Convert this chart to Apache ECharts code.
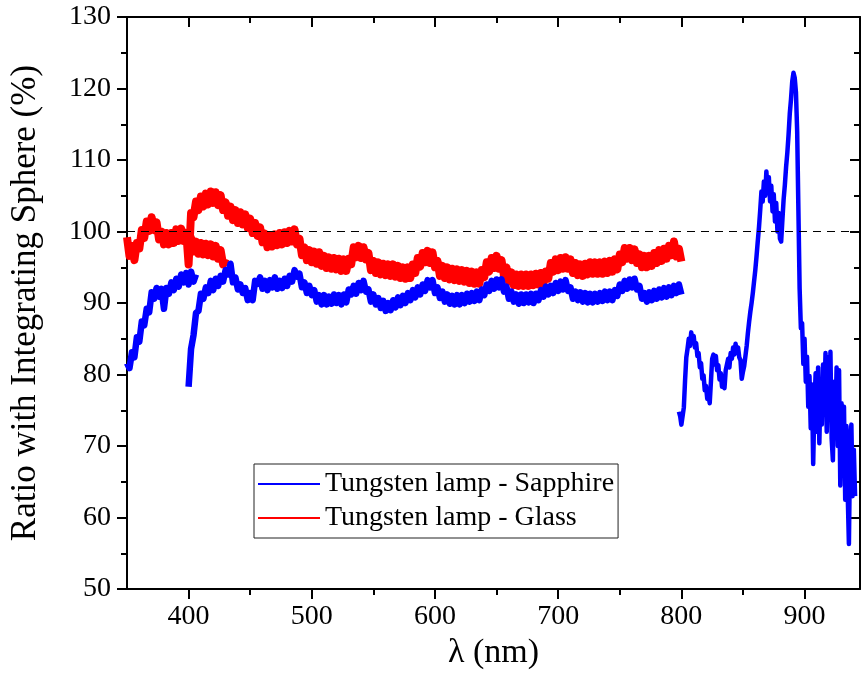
<!DOCTYPE html>
<html><head><meta charset="utf-8">
<script src="https://cdn.jsdelivr.net/npm/echarts@6/dist/echarts.min.js"></script>
<style>html,body{margin:0;padding:0;background:#fff}#c{width:861px;height:675px}</style>
</head><body><div id="c"></div>
<script>
// ---- data ----
const seriesNames = ['Tungsten lamp - Sapphire', 'Tungsten lamp - Glass'];
const xTickValues = [400, 500, 600, 700, 800, 900];
const xMinorTickValues = [450, 550, 650, 750, 850];

// Sapphire, first spectrometer (350–406 nm, every 2 nm)
const sapphireAStart = 350, sapphireAStep = 2;
const sapphireA = [
  81.6, 80.9, 83.1, 82.4, 85.2, 84.6, 87.4, 86.9, 89.2, 88.7,
  91.5, 90.6, 92.1, 90.9, 92.0, 89.2, 92.1, 91.3, 92.9, 91.8,
  93.4, 92.3, 94.0, 92.9, 94.2, 92.6, 94.4, 93.0, 94.0
];
// Sapphire, second spectrometer (400–800 nm, every 2 nm)
const sapphireBStart = 400, sapphireBStep = 2;
const sapphireB = [
  78.3, 83.6, 85.5, 88.6, 88.9, 91.3, 90.6, 92.2, 91.4, 93.1,
  91.8, 93.4, 92.4, 93.8, 93.0, 94.6, 94.0, 95.5, 92.9, 93.6,
  91.9, 92.6, 91.4, 92.1, 90.4, 91.4, 90.4, 93.1, 92.7, 93.6,
  92.0, 93.1, 91.8, 93.2, 92.2, 93.6, 92.0, 93.1, 92.1, 93.4,
  92.4, 93.8, 93.0, 94.6, 93.7, 94.1, 92.2, 92.9, 91.4, 92.4,
  91.1, 91.8, 90.2, 91.1, 89.8, 91.1, 89.8, 90.9, 89.9, 91.2,
  90.0, 91.1, 89.8, 91.2, 90.1, 91.9, 91.2, 92.4, 91.3, 92.8,
  91.8, 93.1, 91.6, 91.9, 90.2, 91.2, 89.8, 90.7, 89.3, 90.3,
  88.9, 90.0, 89.0, 90.4, 89.4, 90.8, 89.7, 91.0, 90.0, 91.4,
  90.4, 91.8, 90.8, 92.2, 91.2, 92.6, 91.7, 93.2, 92.2, 93.2,
  91.4, 92.2, 90.7, 91.6, 90.2, 91.2, 89.9, 91.0, 89.8, 91.1,
  89.8, 91.1, 90.0, 91.3, 90.2, 91.4, 90.3, 91.6, 90.4, 91.9,
  91.1, 92.6, 91.7, 93.1, 92.0, 93.3, 92.2, 93.3, 91.6, 92.3,
  90.6, 91.6, 90.2, 91.2, 89.9, 91.2, 90.0, 91.2, 90.1, 91.3,
  90.0, 91.3, 90.4, 91.8, 90.9, 92.3, 91.2, 92.4, 91.4, 92.8,
  91.7, 93.0, 91.9, 93.2, 91.7, 92.2, 90.6, 91.6, 90.4, 91.5,
  90.2, 91.4, 90.1, 91.3, 90.1, 91.3, 90.2, 91.4, 90.3, 91.6,
  90.4, 91.6, 90.4, 91.8, 91.0, 92.6, 91.7, 93.1, 92.0, 93.3,
  92.2, 93.4, 91.9, 92.4, 90.6, 91.4, 90.2, 91.5, 90.4, 91.7,
  90.6, 91.9, 90.8, 92.1, 90.9, 92.2, 91.1, 92.4, 91.4, 92.6,
  91.2
];
// Sapphire, NIR spectrometer (798–941 nm, every 1 nm)
const sapphireCStart = 798, sapphireCStep = 1;
const sapphireC = [
  74.8, 74.2, 73.0, 72.9, 75.4, 79.2, 82.4, 83.6, 85.0, 84.0,
  85.9, 84.4, 85.4, 83.8, 84.4, 82.6, 83.0, 81.0, 81.6, 79.4,
  79.9, 77.8, 78.4, 76.6, 77.2, 76.0, 79.0, 82.2, 82.8, 81.4,
  82.6, 80.6, 81.3, 79.3, 80.2, 78.3, 79.6, 78.1, 80.6, 81.4,
  82.2, 81.0, 83.0, 82.2, 83.8, 82.8, 84.3, 83.0, 83.8, 82.4,
  82.0, 79.4, 80.4, 81.2, 82.6, 84.0, 85.8, 87.4, 88.8, 90.0,
  91.4, 93.0, 94.6, 96.5, 98.6, 100.6, 103.0, 105.6, 104.2, 107.0,
  105.0, 108.4, 105.6, 107.6, 104.2, 106.4, 102.8, 105.2, 101.4, 104.0,
  100.0, 102.6, 99.0, 98.6, 101.6, 104.5, 106.5, 109.0, 111.0, 113.5,
  116.5, 118.5, 121.0, 122.2, 121.5, 119.5, 114.0, 103.0, 92.0, 86.5,
  87.2, 81.5, 85.0, 79.0, 82.5, 75.5, 79.8, 72.5, 78.6, 67.5,
  76.0, 80.2, 72.0, 81.0, 70.4, 78.5, 73.0, 81.4, 75.2, 83.0,
  72.0, 82.4, 74.5, 83.2, 71.0, 68.0, 79.0, 72.5, 81.0, 70.0,
  80.6, 64.5, 76.0, 69.0, 75.5, 62.5, 72.8, 63.5, 56.3, 70.5,
  73.0, 63.0, 69.5, 63.0
];
// Glass, first spectrometer (350–430 nm, every 2 nm)
const glassAStart = 350, glassAStep = 2;
const glassA = [
  99.2, 96.6, 98.0, 96.0, 98.4, 97.6, 100.2, 99.1, 101.4, 100.1,
  102.0, 100.2, 101.3, 98.9, 100.0, 98.2, 99.8, 98.2, 99.8, 98.4,
  100.3, 98.7, 100.4, 98.7, 99.8, 97.7, 99.1, 97.2, 98.6, 96.9,
  98.4, 96.8, 98.3, 96.7, 98.2, 96.5, 98.0, 96.2, 97.4, 95.4,
  96.2
];
// Glass, second spectrometer (398–800 nm, every 2 nm)
const glassBStart = 398, glassBStep = 2;
const glassB = [
  100.2, 95.4, 102.6, 102.0, 104.2, 103.0, 104.9, 103.5, 105.3, 103.8,
  105.6, 104.0, 105.5, 103.7, 105.1, 103.0, 104.1, 102.2, 103.5, 101.6,
  103.0, 101.2, 102.7, 101.0, 102.4, 100.5, 101.8, 99.8, 101.2, 99.4,
  100.6, 98.5, 99.7, 97.8, 99.4, 97.9, 99.6, 98.1, 99.8, 98.2,
  99.9, 98.4, 100.1, 98.6, 100.3, 98.2, 99.0, 96.7, 97.8, 96.0,
  97.4, 95.7, 97.2, 95.5, 97.1, 95.2, 96.6, 94.9, 96.4, 94.8,
  96.3, 94.7, 96.2, 94.5, 96.1, 94.5, 96.2, 95.4, 97.8, 96.4,
  98.0, 96.3, 97.8, 96.1, 97.0, 94.6, 95.9, 94.2, 95.7, 94.0,
  95.5, 93.9, 95.4, 93.8, 95.4, 93.7, 95.2, 93.5, 95.0, 93.4,
  95.0, 93.5, 95.4, 94.2, 96.3, 95.1, 97.0, 95.7, 97.3, 95.6,
  97.1, 95.0, 95.9, 93.8, 95.2, 93.5, 95.0, 93.3, 94.8, 93.2,
  94.7, 93.1, 94.6, 93.0, 94.5, 92.8, 94.4, 92.7, 94.3, 92.7,
  94.6, 93.6, 95.7, 94.4, 96.3, 94.9, 96.6, 94.8, 96.0, 93.8,
  95.0, 93.0, 94.3, 92.5, 94.0, 92.4, 94.0, 92.4, 94.0, 92.4,
  94.0, 92.5, 94.1, 92.6, 94.2, 92.7, 94.4, 93.4, 95.6, 94.4,
  96.1, 94.6, 96.3, 94.8, 96.4, 94.8, 96.1, 94.2, 95.6, 93.9,
  95.4, 93.8, 95.5, 94.0, 95.7, 94.1, 95.7, 94.1, 95.7, 94.1,
  95.8, 94.2, 95.9, 94.4, 96.1, 94.7, 96.8, 95.7, 97.7, 96.2,
  97.7, 96.0, 97.5, 95.6, 96.8, 95.0, 96.6, 95.0, 96.6, 95.2,
  97.0, 95.6, 97.4, 95.9, 97.6, 96.2, 98.0, 96.7, 98.6, 96.5,
  97.6, 95.8
];
const referenceLevel = 100;

// ---- chart ----
const FONT = 'Liberation Serif';
const BLUE = '#0000ff', RED = '#ff0000';
function toPairs(start, step, ys) { return ys.map((y, i) => [start + i * step, y]); }

function lineSeries(name, color, width, pts, extra) {
  return Object.assign({
    name: name, type: 'line', data: pts, symbol: 'none', showSymbol: false,
    xAxisIndex: 0, yAxisIndex: 0, animation: false, silent: true,
    lineStyle: { color: color, width: width, join: 'round' }, itemStyle: { color: color }
  }, extra || {});
}

const xCommon = { type: 'value', min: 350, max: 945, splitLine: { show: false } };
const tickStyle = { color: '#000', width: 2 };

const option = {
  animation: false,
  backgroundColor: '#fff',
  grid: { left: 127, top: 17, width: 733, height: 576, containLabel: false },
  xAxis: [
    Object.assign({}, xCommon, {
      position: 'bottom',
      axisLine: { show: true, lineStyle: { color: '#000', width: 2 } },
      axisTick: { show: true, inside: false, length: 10, lineStyle: tickStyle, customValues: xTickValues },
      axisLabel: { show: true, customValues: xTickValues, fontFamily: FONT, fontSize: 28, color: '#000', margin: 14 },
      name: 'λ (nm)', nameLocation: 'middle', nameGap: 46,
      nameTextStyle: { fontFamily: FONT, fontSize: 34, color: '#000' }
    }),
    Object.assign({}, xCommon, {
      position: 'bottom',
      axisLine: { show: false },
      axisTick: { show: true, inside: false, length: 6, lineStyle: tickStyle, customValues: xMinorTickValues },
      axisLabel: { show: false }
    }),
    Object.assign({}, xCommon, {
      position: 'top',
      axisLine: { show: true, lineStyle: { color: '#000', width: 2 } },
      axisTick: { show: true, inside: true, length: 10, lineStyle: tickStyle, customValues: xTickValues },
      axisLabel: { show: false }
    }),
    Object.assign({}, xCommon, {
      position: 'top',
      axisLine: { show: false },
      axisTick: { show: true, inside: true, length: 6, lineStyle: tickStyle, customValues: xMinorTickValues },
      axisLabel: { show: false }
    })
  ],
  yAxis: [
    {
      type: 'value', position: 'left', min: 50, max: 130, interval: 10,
      axisLine: { show: true, lineStyle: { color: '#000', width: 2 } },
      axisTick: { show: true, inside: false, length: 10, lineStyle: tickStyle },
      minorTick: { show: true, splitNumber: 2, length: 6, lineStyle: tickStyle },
      axisLabel: { fontFamily: FONT, fontSize: 28, color: '#000', margin: 16 },
      splitLine: { show: false }, minorSplitLine: { show: false },
      name: 'Ratio with Integrating Sphere (%)', nameLocation: 'middle', nameRotate: 90, nameGap: 84,
      nameTextStyle: { fontFamily: FONT, fontSize: 35, color: '#000' }
    },
    {
      type: 'value', position: 'right', min: 50, max: 130, interval: 10,
      axisLine: { show: true, lineStyle: { color: '#000', width: 2 } },
      axisTick: { show: true, inside: true, length: 10, lineStyle: tickStyle },
      minorTick: { show: true, splitNumber: 2, length: 6, lineStyle: tickStyle },
      axisLabel: { show: false },
      splitLine: { show: false }, minorSplitLine: { show: false }
    }
  ],
  legend: {
    data: seriesNames, orient: 'vertical', left: 254, top: 464,
    backgroundColor: '#fff', borderColor: '#222', borderWidth: 1,
    padding: [5, 4, 5, 4], itemGap: 4, itemWidth: 62, itemHeight: 2,
    icon: 'rect',
    textStyle: { fontFamily: FONT, fontSize: 28, color: '#000', lineHeight: 30 },
    selectedMode: false
  },
  series: [
    lineSeries(seriesNames[1], RED, 8, toPairs(glassAStart, glassAStep, glassA)),
    lineSeries(seriesNames[1], RED, 8, toPairs(glassBStart, glassBStep, glassB)),
    lineSeries(seriesNames[0], BLUE, 6.5, toPairs(sapphireAStart, sapphireAStep, sapphireA)),
    lineSeries(seriesNames[0], BLUE, 6.5, toPairs(sapphireBStart, sapphireBStep, sapphireB)),
    lineSeries(seriesNames[0], BLUE, 4.5, toPairs(sapphireCStart, sapphireCStep, sapphireC), {
      markLine: {
        silent: true, symbol: ['none', 'none'], animation: false,
        label: { show: false },
        lineStyle: { color: '#000', type: [8, 6], width: 1.2 },
        data: [{ yAxis: referenceLevel }]
      }
    })
  ]
};

const chart = echarts.init(document.getElementById('c'), null, { renderer: 'canvas' });
chart.setOption(option);
</script>
</body></html>
